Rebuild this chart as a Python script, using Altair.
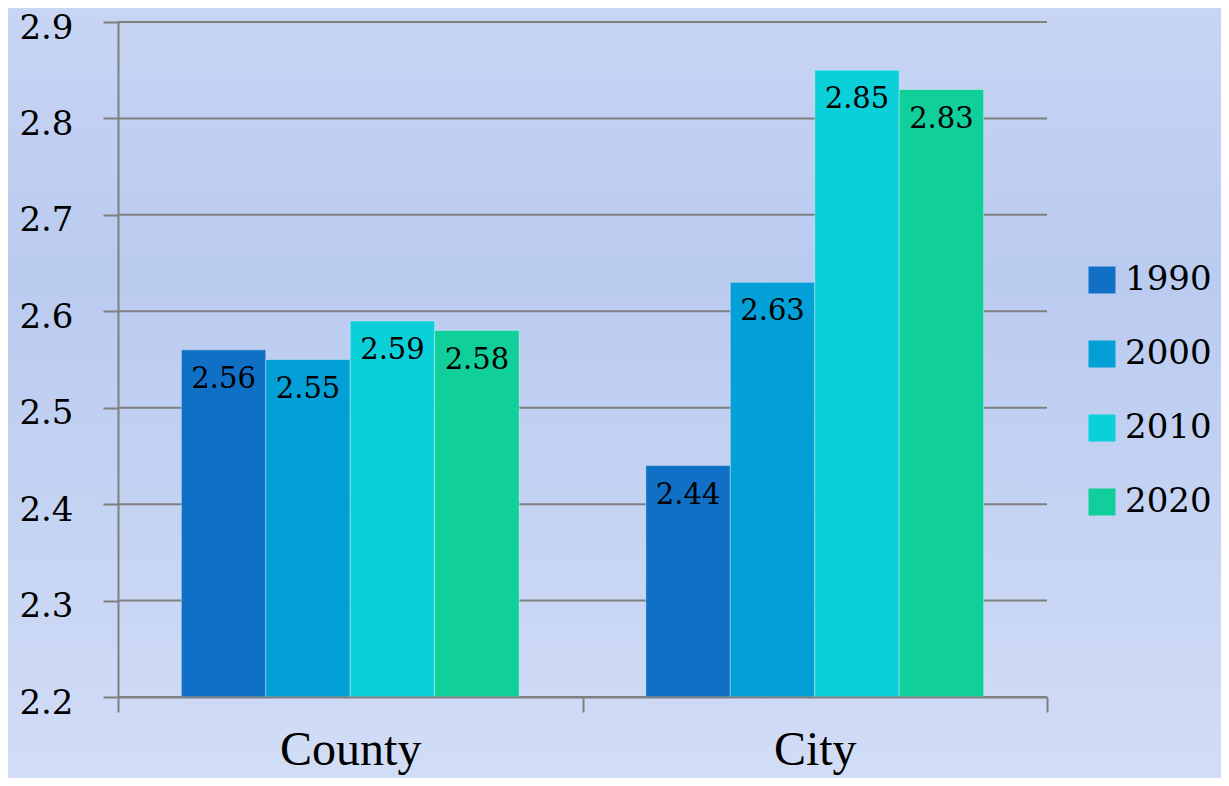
import altair as alt
import pandas as pd

regions = ["County", "City"]
years = ["1990", "2000", "2010", "2020"]
county_values = [2.56, 2.55, 2.59, 2.58]
city_values = [2.44, 2.63, 2.85, 2.83]
y_ticks = [2.2, 2.3, 2.4, 2.5, 2.6, 2.7, 2.8, 2.9]
colors = ["#1070C6", "#03A0D8", "#0BD0D9", "#10CF9B"]

rows = []
for r, vals in zip(regions, [county_values, city_values]):
    for yr, v in zip(years, vals):
        rows.append({"region": r, "year": yr, "value": v, "base": 2.2})
df = pd.DataFrame(rows)
grid_df = pd.DataFrame({"tick": y_ticks})

W, H = 929, 675
PL, PT, PR, PB = 110, 14, 174, 81
FONT = "Liberation Serif"
NFONT = "DejaVu Serif"

yscale = alt.Scale(domain=[2.2, 2.9], zero=False, nice=False)

bg = alt.Chart(pd.DataFrame({"a": [0]})).mark_rect(
    color=alt.Gradient(
        gradient="linear",
        stops=[
            alt.GradientStop(color="#C8D5F4", offset=0),
            alt.GradientStop(color="#BACBF0", offset=0.35),
            alt.GradientStop(color="#D2DDF6", offset=1),
        ],
        x1=0, x2=0, y1=0, y2=1,
    )
).encode(
    x=alt.value(-PL - 10), x2=alt.value(W + PR + 10),
    y=alt.value(-PT - 10), y2=alt.value(H + PB + 10),
)

grid = alt.Chart(grid_df).mark_rule(color="#7F7F7F", strokeWidth=2).encode(
    y=alt.Y("tick:Q", scale=yscale),
    x=alt.value(0), x2=alt.value(W),
)

xenc = alt.X(
    "region:N", sort=regions,
    scale=alt.Scale(paddingInner=0, paddingOuter=0),
    axis=alt.Axis(
        title=None, labelAngle=0, labelFontSize=48, labelFont=FONT,
        labelColor="black", tickBand="extent", tickSize=15, tickWidth=2,
        tickColor="#7F7F7F", domainColor="#7F7F7F", domainWidth=2,
        labelPadding=14, zindex=1,
    ),
)
xoff = alt.XOffset("year:N", sort=years, scale=alt.Scale(paddingOuter=0.75, paddingInner=0))
yenc = alt.Y(
    "value:Q", scale=yscale,
    axis=alt.Axis(
        title=None, values=y_ticks, format=".1f", grid=False,
        labelFontSize=34, labelFont=NFONT, labelColor="black",
        tickSize=15, tickWidth=2, tickColor="#7F7F7F",
        domainColor="#7F7F7F", domainWidth=2, labelPadding=30,
        labelOffset=6, zindex=1,
    ),
)

bars = alt.Chart(df).mark_bar(strokeWidth=1, strokeOpacity=0.35, stroke="white").encode(
    x=xenc, xOffset=xoff, y=yenc, y2="base:Q",
    color=alt.Color(
        "year:N", sort=years,
        scale=alt.Scale(domain=years, range=colors),
        legend=alt.Legend(
            title=None, orient="none", legendX=967, legendY=241,
            symbolType="square", symbolSize=729, symbolStrokeWidth=0,
            labelFontSize=34, labelFont=NFONT, labelColor="black",
            rowPadding=40, labelOffset=6,
        ),
    ),
)

labels = alt.Chart(df).mark_text(
    baseline="middle", dy=29, fontSize=29, font=NFONT, color="black"
).encode(
    x=xenc, xOffset=xoff, y=yenc,
    text=alt.Text("value:Q", format=".2f"),
)

chart = alt.layer(bg, grid, bars, labels).properties(
    width=W, height=H,
    padding={"left": PL, "top": PT, "right": PR, "bottom": PB},
    autosize=alt.AutoSizeParams(type="none"),
    background="#C6D3F3",
).configure_view(stroke=None)

chart.save("out.html", embed_options={"renderer": "svg", "actions": False})
